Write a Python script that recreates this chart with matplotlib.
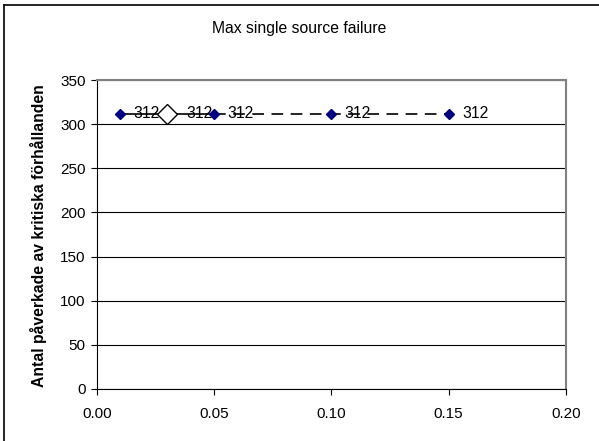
import matplotlib
matplotlib.use("Agg")
import matplotlib.pyplot as plt
from matplotlib.lines import Line2D

plt.rcParams['font.family'] = ['Liberation Sans', 'DejaVu Sans']

x_points = [0.01, 0.05, 0.10, 0.15]
y_points = [312, 312, 312, 312]
x_open = [0.03]
y_open = [312]
x_solid = [0.01, 0.03, 0.05]
y_solid = [312, 312, 312]
x_dash = [0.05, 0.10, 0.15]
y_dash = [312, 312, 312]
label_x = [0.01, 0.03, 0.05, 0.10, 0.15]
label_y = [312, 312, 312, 312, 312]
labels = ["312", "312", "312", "312", "312"]

W, H = 599, 441
fig = plt.figure(figsize=(W / 100, H / 100), dpi=100)
# outer chart border (only left and top visible in the reference)
fig.lines.append(Line2D([4 / W, 4 / W], [0, 1 - 5 / H], transform=fig.transFigure,
                        color='black', linewidth=1.2))
fig.lines.append(Line2D([4 / W, 1], [1 - 5 / H, 1 - 5 / H], transform=fig.transFigure,
                        color='black', linewidth=1.2))

left, right, top, bottom = 96.7, 566, 80, 389
ax = fig.add_axes([left / W, 1 - bottom / H, (right - left) / W, (bottom - top) / H])

ax.set_xlim(0, 0.20)
ax.set_ylim(0, 350)
ax.set_xticks([0.00, 0.05, 0.10, 0.15, 0.20])
ax.set_xticklabels(["0.00", "0.05", "0.10", "0.15", "0.20"])
ax.set_yticks(range(0, 351, 50))
ax.yaxis.grid(True, color='black', linewidth=0.8)
ax.set_axisbelow(True)

ax.plot(x_solid, y_solid, color='black', linewidth=1.2, zorder=2)
ax.plot(x_dash, y_dash, color='black', linewidth=1.2, linestyle=(0, (7, 4.5)), zorder=2)
ax.plot(x_points, y_points, linestyle='none', marker='D', markersize=5,
        color='#000080', zorder=3)
ax.plot(x_open, y_open, linestyle='none', marker='D', markersize=10,
        markerfacecolor='white', markeredgecolor='black', markeredgewidth=1.0, zorder=4)

for xx, yy, t in zip(label_x, label_y, labels):
    off = 14 if xx == 0.03 else 9.5
    ax.annotate(t, (xx, yy), xytext=(off, 0), textcoords='offset points',
                va='center', ha='left', fontsize=11.3, color='black', zorder=5)

for s in ['left', 'bottom']:
    ax.spines[s].set_color('black')
for s in ['top', 'right']:
    ax.spines[s].set_color('#808080')
    ax.spines[s].set_linewidth(1.5)
ax.tick_params(direction='out', length=4, labelsize=11, colors='black')
ax.tick_params(axis='x', pad=9)
ax.tick_params(axis='y', pad=4)

ax.set_ylabel("Antal påverkade av kritiska förhållanden", fontsize=11.3, fontweight='bold')
ax.yaxis.set_label_coords(47 / W, 1 - 236 / H, transform=fig.transFigure)
fig.text(0.5, 1 - 28 / H, "Max single source failure", ha='center', va='center', fontsize=11.3)

fig.savefig("out.png", dpi=100)
